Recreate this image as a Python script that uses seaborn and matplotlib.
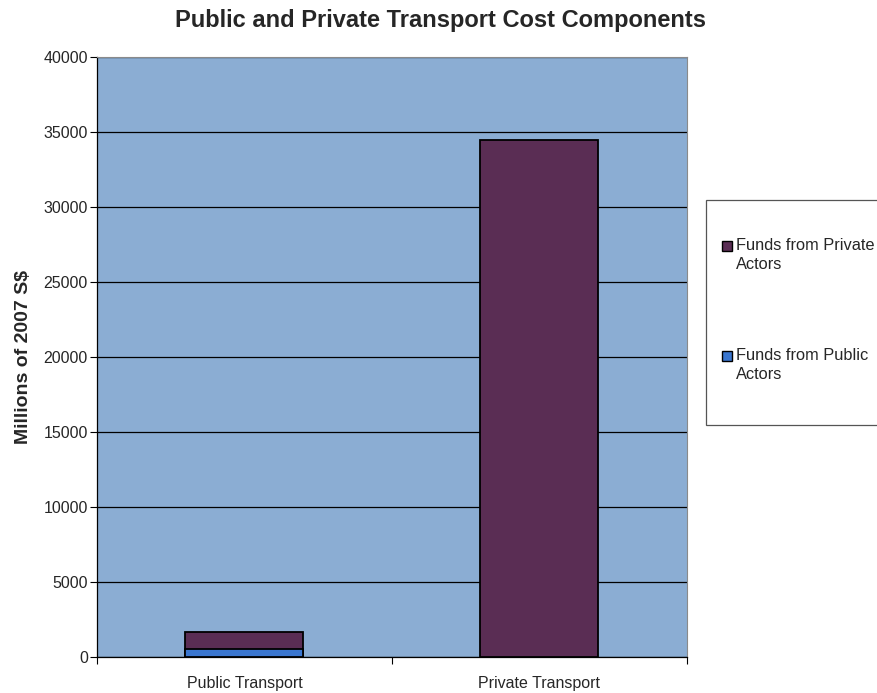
import matplotlib
matplotlib.use("Agg")
import matplotlib.pyplot as plt
from matplotlib.patches import Rectangle
import seaborn as sns
import pandas as pd

categories = ["Public Transport", "Private Transport"]
public_funds = [530, 0]
private_funds = [1140, 34500]

series_names = ["Funds from Private\nActors", "Funds from Public\nActors"]
colors = {"private": "#5a2d54", "public": "#3a76cf"}

totals = [a + b for a, b in zip(public_funds, private_funds)]
df = pd.DataFrame({"category": categories, "total": totals, "public": public_funds})

sns.set_style("white")
plt.rcParams["font.family"] = ["Liberation Sans", "DejaVu Sans"]

W, H = 878, 693
fig = plt.figure(figsize=(W / 100, H / 100), dpi=100)
ax = fig.add_axes([97 / W, 36 / H, 590 / W, 600 / H])
ax.set_facecolor("#8badd3")

# stacked bars: full height in the private colour, public share drawn over it
sns.barplot(data=df, x="category", y="total", color=colors["private"], width=0.4,
            edgecolor="black", linewidth=1.3, saturation=1, ax=ax, zorder=3)
sns.barplot(data=df[df["public"] > 0], x="category", y="public", color=colors["public"],
            width=0.4, edgecolor="black", linewidth=1.3, saturation=1, ax=ax, zorder=4)

ax.set_xlim(-0.5, 1.5)
ax.set_ylim(0, 40000)
ax.set_yticks(range(0, 40001, 5000))
ax.yaxis.grid(True, color="black", linewidth=0.9)
ax.set_axisbelow(True)

# category boundary ticks on the x axis
ax.set_xticks([-0.5, 0.5, 1.5], minor=False)
ax.set_xticklabels([])
ax.set_xticks([0, 1], minor=True)
ax.set_xticklabels(categories, minor=True, fontsize=11.5)
ax.tick_params(axis="x", which="major", direction="out", length=5, width=0.8, color="black")
ax.tick_params(axis="x", which="minor", length=0, pad=14)
ax.tick_params(axis="y", direction="out", length=5, width=0.8, color="black",
               labelsize=11.5, pad=1.5)
ax.tick_params(left=True, bottom=True)

ax.set_xlabel("")
ax.set_ylabel("Millions of 2007 S$", fontsize=14, fontweight="bold", labelpad=8)
fig.text(441 / W, 1 - 21 / H, "Public and Private Transport Cost Components",
         fontsize=17, fontweight="bold", ha="center", va="center")

for side in ["top", "right"]:
    ax.spines[side].set_color("#8a8a8a")
    ax.spines[side].set_linewidth(0.8)
for side in ["left", "bottom"]:
    ax.spines[side].set_color("black")
    ax.spines[side].set_linewidth(0.9)

# legend frame running off the right edge, with one square per series
fig.add_artist(Rectangle((706 / W, (H - 425) / H), 200 / W, 225 / H,
                         transform=fig.transFigure, facecolor="white",
                         edgecolor="#555555", linewidth=0.9, clip_on=False))
legend_rows = [246, 356]
for name, key, row in zip(series_names, ["private", "public"], legend_rows):
    fig.add_artist(Rectangle((722 / W, (H - row - 5) / H), 10 / W, 10 / H,
                             transform=fig.transFigure, facecolor=colors[key],
                             edgecolor="black", linewidth=1))
    fig.text(736 / W, (H - row + 8) / H, name, fontsize=11.8, ha="left", va="top",
             linespacing=1.35)

fig.savefig("out.png", dpi=100)
